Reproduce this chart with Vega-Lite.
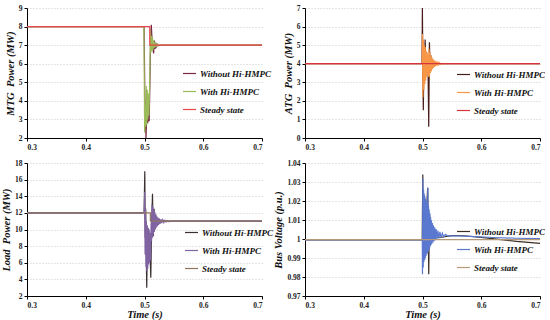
{
  "$schema": "https://vega.github.io/schema/vega-lite/v6.json",
  "padding": {"left": 1, "top": 4, "right": 0, "bottom": 0},
  "background": "white",
  "columns": 2,
  "bounds": "flush",
  "spacing": {"row": 25, "column": 43},
  "resolve": {"scale": {"color": "independent"}, "legend": {"color": "independent"}},
  "config": {
    "view": {"stroke": null},
    "axis": {
      "domainColor": "#000", "domainWidth": 1, "tickColor": "#000", "tickSize": 3,
      "labelFont": "Liberation Serif", "labelFontSize": 7.5, "labelFontWeight": "bold", "labelColor": "#222", "labelPadding": 2,
      "titleFont": "Liberation Serif", "titleFontStyle": "italic", "titleFontWeight": "bold", "titleFontSize": 10.5, "titleColor": "#111", "titlePadding": 3,
      "gridColor": "#bdbdbd", "gridDash": [1, 2], "gridWidth": 0.8
    },
    "legend": {
      "symbolType": "stroke", "symbolSize": 169, "symbolStrokeWidth": 1.6,
      "labelFont": "Liberation Serif", "labelFontStyle": "italic", "labelFontWeight": "bold", "labelFontSize": 9, "labelColor": "#111",
      "rowPadding": 5, "labelOffset": 3
    },
    "line": {"strokeWidth": 1.2}
  },
  "concat": [
    {
      "width": 235, "height": 130,
      "data": {"values": [
        {"s":"Without Hi-HMPC","t":0.3,"v":8},{"s":"Without Hi-HMPC","t":0.4993,"v":8},{"s":"Without Hi-HMPC","t":0.5005,"v":4.5},{"s":"Without Hi-HMPC","t":0.5025,"v":2.0},{"s":"Without Hi-HMPC","t":0.504,"v":3.4},{"s":"Without Hi-HMPC","t":0.5055,"v":2.8},{"s":"Without Hi-HMPC","t":0.5068,"v":3.4},{"s":"Without Hi-HMPC","t":0.508,"v":2.9},{"s":"Without Hi-HMPC","t":0.5092,"v":5.0},{"s":"Without Hi-HMPC","t":0.5105,"v":7.4},{"s":"Without Hi-HMPC","t":0.5116,"v":8.1},{"s":"Without Hi-HMPC","t":0.5128,"v":7.3},{"s":"Without Hi-HMPC","t":0.514,"v":6.9},{"s":"Without Hi-HMPC","t":0.5155,"v":6.55},{"s":"Without Hi-HMPC","t":0.5168,"v":7.25},{"s":"Without Hi-HMPC","t":0.518,"v":6.8},{"s":"Without Hi-HMPC","t":0.5193,"v":7.12},{"s":"Without Hi-HMPC","t":0.5207,"v":6.92},{"s":"Without Hi-HMPC","t":0.5222,"v":7.04},{"s":"Without Hi-HMPC","t":0.524,"v":6.98},{"s":"Without Hi-HMPC","t":0.527,"v":7.0},{"s":"Without Hi-HMPC","t":0.7,"v":7.0},
        {"s":"With Hi-HMPC","t":0.3,"v":8},{"s":"With Hi-HMPC","t":0.499,"v":8},{"s":"With Hi-HMPC","t":0.5002,"v":2.3},{"s":"With Hi-HMPC","t":0.5012,"v":3.8},{"s":"With Hi-HMPC","t":0.502,"v":2.6},{"s":"With Hi-HMPC","t":0.5029,"v":4.8},{"s":"With Hi-HMPC","t":0.5038,"v":2.7},{"s":"With Hi-HMPC","t":0.5047,"v":4.6},{"s":"With Hi-HMPC","t":0.5056,"v":3.0},{"s":"With Hi-HMPC","t":0.5065,"v":4.4},{"s":"With Hi-HMPC","t":0.5074,"v":3.2},{"s":"With Hi-HMPC","t":0.5083,"v":4.2},{"s":"With Hi-HMPC","t":0.5092,"v":5.8},{"s":"With Hi-HMPC","t":0.5101,"v":7.8},{"s":"With Hi-HMPC","t":0.511,"v":6.6},{"s":"With Hi-HMPC","t":0.5119,"v":7.5},{"s":"With Hi-HMPC","t":0.5128,"v":6.7},{"s":"With Hi-HMPC","t":0.5137,"v":7.4},{"s":"With Hi-HMPC","t":0.5146,"v":6.75},{"s":"With Hi-HMPC","t":0.5155,"v":7.25},{"s":"With Hi-HMPC","t":0.5165,"v":6.85},{"s":"With Hi-HMPC","t":0.5175,"v":7.15},{"s":"With Hi-HMPC","t":0.5186,"v":6.9},{"s":"With Hi-HMPC","t":0.5198,"v":7.08},{"s":"With Hi-HMPC","t":0.521,"v":6.95},{"s":"With Hi-HMPC","t":0.5225,"v":7.03},{"s":"With Hi-HMPC","t":0.5245,"v":6.99},{"s":"With Hi-HMPC","t":0.527,"v":7.0},{"s":"With Hi-HMPC","t":0.7,"v":7.0},
        {"s":"Steady state","t":0.3,"v":8},{"s":"Steady state","t":0.5089,"v":8},{"s":"Steady state","t":0.509,"v":7},{"s":"Steady state","t":0.7,"v":7}
      ]},
      "mark": {"type": "line"},
      "encoding": {
        "x": {"field": "t", "type": "quantitative", "scale": {"domain": [0.3, 0.7]}, "axis": {"values": [0.3, 0.4, 0.5, 0.6, 0.7], "format": ".1f", "title": null, "grid": false}},
        "y": {"field": "v", "type": "quantitative", "scale": {"domain": [2, 9]}, "axis": {"values": [2, 3, 4, 5, 6, 7, 8, 9], "title": "MTG\u00a0 Power (MW)", "grid": true}},
        "color": {"field": "s", "type": "nominal", "sort": null,
          "scale": {"domain": ["Without Hi-HMPC", "With Hi-HMPC", "Steady state"], "range": ["#7a2845", "#9bbb59", "#e8464c"]},
          "legend": {"title": null, "orient": "none", "legendX": 155, "legendY": 58}}
      }
    },
    {
      "width": 235, "height": 130,
      "data": {"values": [
        {"s":"Without Hi-HMPC","t":0.3,"v":4},{"s":"Without Hi-HMPC","t":0.4992,"v":4},{"s":"Without Hi-HMPC","t":0.4998,"v":7.0},{"s":"Without Hi-HMPC","t":0.5005,"v":4.3},{"s":"Without Hi-HMPC","t":0.5014,"v":1.5},{"s":"Without Hi-HMPC","t":0.5025,"v":4.6},{"s":"Without Hi-HMPC","t":0.5035,"v":4.2},{"s":"Without Hi-HMPC","t":0.5045,"v":5.3},{"s":"Without Hi-HMPC","t":0.5056,"v":3.7},{"s":"Without Hi-HMPC","t":0.5068,"v":4.6},{"s":"Without Hi-HMPC","t":0.508,"v":3.8},{"s":"Without Hi-HMPC","t":0.5092,"v":4.4},{"s":"Without Hi-HMPC","t":0.5106,"v":0.6},{"s":"Without Hi-HMPC","t":0.5118,"v":5.15},{"s":"Without Hi-HMPC","t":0.513,"v":3.5},{"s":"Without Hi-HMPC","t":0.5142,"v":4.45},{"s":"Without Hi-HMPC","t":0.5154,"v":3.75},{"s":"Without Hi-HMPC","t":0.5166,"v":4.25},{"s":"Without Hi-HMPC","t":0.518,"v":3.9},{"s":"Without Hi-HMPC","t":0.5195,"v":4.08},{"s":"Without Hi-HMPC","t":0.521,"v":3.97},{"s":"Without Hi-HMPC","t":0.523,"v":4.02},{"s":"Without Hi-HMPC","t":0.526,"v":4.0},{"s":"Without Hi-HMPC","t":0.7,"v":4},
        {"s":"With Hi-HMPC","t":0.3,"v":4},{"s":"With Hi-HMPC","t":0.4994,"v":4},{"s":"With Hi-HMPC","t":0.5,"v":5.6},{"s":"With Hi-HMPC","t":0.5007,"v":2.2},{"s":"With Hi-HMPC","t":0.5015,"v":5.3},{"s":"With Hi-HMPC","t":0.5023,"v":2.6},{"s":"With Hi-HMPC","t":0.5031,"v":5.0},{"s":"With Hi-HMPC","t":0.5039,"v":2.9},{"s":"With Hi-HMPC","t":0.5047,"v":4.9},{"s":"With Hi-HMPC","t":0.5055,"v":3.1},{"s":"With Hi-HMPC","t":0.5063,"v":4.7},{"s":"With Hi-HMPC","t":0.5071,"v":3.3},{"s":"With Hi-HMPC","t":0.5079,"v":4.6},{"s":"With Hi-HMPC","t":0.5087,"v":3.4},{"s":"With Hi-HMPC","t":0.5095,"v":4.5},{"s":"With Hi-HMPC","t":0.5103,"v":3.3},{"s":"With Hi-HMPC","t":0.5111,"v":4.8},{"s":"With Hi-HMPC","t":0.5119,"v":3.3},{"s":"With Hi-HMPC","t":0.5127,"v":4.6},{"s":"With Hi-HMPC","t":0.5135,"v":3.5},{"s":"With Hi-HMPC","t":0.5143,"v":4.45},{"s":"With Hi-HMPC","t":0.5151,"v":3.6},{"s":"With Hi-HMPC","t":0.5159,"v":4.35},{"s":"With Hi-HMPC","t":0.5168,"v":3.7},{"s":"With Hi-HMPC","t":0.5177,"v":4.27},{"s":"With Hi-HMPC","t":0.5186,"v":3.77},{"s":"With Hi-HMPC","t":0.5195,"v":4.2},{"s":"With Hi-HMPC","t":0.5205,"v":3.83},{"s":"With Hi-HMPC","t":0.5215,"v":4.15},{"s":"With Hi-HMPC","t":0.5226,"v":3.87},{"s":"With Hi-HMPC","t":0.5237,"v":4.11},{"s":"With Hi-HMPC","t":0.525,"v":3.91},{"s":"With Hi-HMPC","t":0.5263,"v":4.08},{"s":"With Hi-HMPC","t":0.5277,"v":3.94},{"s":"With Hi-HMPC","t":0.5292,"v":4.05},{"s":"With Hi-HMPC","t":0.531,"v":3.97},{"s":"With Hi-HMPC","t":0.533,"v":4.02},{"s":"With Hi-HMPC","t":0.536,"v":3.99},{"s":"With Hi-HMPC","t":0.54,"v":4.0},{"s":"With Hi-HMPC","t":0.7,"v":4},
        {"s":"Steady state","t":0.3,"v":4},{"s":"Steady state","t":0.7,"v":4}
      ]},
      "mark": {"type": "line"},
      "encoding": {
        "x": {"field": "t", "type": "quantitative", "scale": {"domain": [0.3, 0.7]}, "axis": {"values": [0.3, 0.4, 0.5, 0.6, 0.7], "format": ".1f", "title": null, "grid": false}},
        "y": {"field": "v", "type": "quantitative", "scale": {"domain": [0, 7]}, "axis": {"values": [0, 1, 2, 3, 4, 5, 6, 7], "title": "ATG\u00a0 Power (MW)", "grid": true}},
        "color": {"field": "s", "type": "nominal", "sort": null,
          "scale": {"domain": ["Without Hi-HMPC", "With Hi-HMPC", "Steady state"], "range": ["#4a1c1c", "#f79646", "#d8343c"]},
          "legend": {"title": null, "orient": "none", "legendX": 151, "legendY": 59}}
      }
    },
    {
      "width": 235, "height": 133,
      "data": {"values": [
        {"s":"Without Hi-HMPC","t":0.3,"v":12},{"s":"Without Hi-HMPC","t":0.4993,"v":12},{"s":"Without Hi-HMPC","t":0.5005,"v":17.0},{"s":"Without Hi-HMPC","t":0.5012,"v":9.0},{"s":"Without Hi-HMPC","t":0.502,"v":12.5},{"s":"Without Hi-HMPC","t":0.5038,"v":3.0},{"s":"Without Hi-HMPC","t":0.5048,"v":8.5},{"s":"Without Hi-HMPC","t":0.5058,"v":6.0},{"s":"Without Hi-HMPC","t":0.5068,"v":10.0},{"s":"Without Hi-HMPC","t":0.5078,"v":6.8},{"s":"Without Hi-HMPC","t":0.5088,"v":9.2},{"s":"Without Hi-HMPC","t":0.5107,"v":4.2},{"s":"Without Hi-HMPC","t":0.5122,"v":10.5},{"s":"Without Hi-HMPC","t":0.5136,"v":14.3},{"s":"Without Hi-HMPC","t":0.515,"v":9.2},{"s":"Without Hi-HMPC","t":0.5163,"v":12.5},{"s":"Without Hi-HMPC","t":0.5176,"v":10.0},{"s":"Without Hi-HMPC","t":0.519,"v":11.8},{"s":"Without Hi-HMPC","t":0.5204,"v":10.5},{"s":"Without Hi-HMPC","t":0.522,"v":11.35},{"s":"Without Hi-HMPC","t":0.5237,"v":10.75},{"s":"Without Hi-HMPC","t":0.5256,"v":11.15},{"s":"Without Hi-HMPC","t":0.528,"v":10.92},{"s":"Without Hi-HMPC","t":0.532,"v":11.03},{"s":"Without Hi-HMPC","t":0.538,"v":11.0},{"s":"Without Hi-HMPC","t":0.7,"v":11},
        {"s":"With Hi-HMPC","t":0.3,"v":12},{"s":"With Hi-HMPC","t":0.4995,"v":12},{"s":"With Hi-HMPC","t":0.5003,"v":14.5},{"s":"With Hi-HMPC","t":0.501,"v":7.0},{"s":"With Hi-HMPC","t":0.5017,"v":12.5},{"s":"With Hi-HMPC","t":0.5025,"v":5.5},{"s":"With Hi-HMPC","t":0.5032,"v":11.0},{"s":"With Hi-HMPC","t":0.504,"v":5.0},{"s":"With Hi-HMPC","t":0.5048,"v":10.5},{"s":"With Hi-HMPC","t":0.5056,"v":5.3},{"s":"With Hi-HMPC","t":0.5064,"v":10.2},{"s":"With Hi-HMPC","t":0.5072,"v":5.8},{"s":"With Hi-HMPC","t":0.508,"v":10.0},{"s":"With Hi-HMPC","t":0.5088,"v":6.0},{"s":"With Hi-HMPC","t":0.5096,"v":9.6},{"s":"With Hi-HMPC","t":0.5104,"v":6.3},{"s":"With Hi-HMPC","t":0.5112,"v":10.8},{"s":"With Hi-HMPC","t":0.512,"v":8.6},{"s":"With Hi-HMPC","t":0.5128,"v":13.0},{"s":"With Hi-HMPC","t":0.5136,"v":9.0},{"s":"With Hi-HMPC","t":0.5144,"v":12.7},{"s":"With Hi-HMPC","t":0.5152,"v":9.4},{"s":"With Hi-HMPC","t":0.516,"v":12.4},{"s":"With Hi-HMPC","t":0.5168,"v":9.7},{"s":"With Hi-HMPC","t":0.5176,"v":12.1},{"s":"With Hi-HMPC","t":0.5184,"v":10.0},{"s":"With Hi-HMPC","t":0.5192,"v":11.8},{"s":"With Hi-HMPC","t":0.52,"v":10.2},{"s":"With Hi-HMPC","t":0.521,"v":11.6},{"s":"With Hi-HMPC","t":0.522,"v":10.4},{"s":"With Hi-HMPC","t":0.523,"v":11.45},{"s":"With Hi-HMPC","t":0.524,"v":10.55},{"s":"With Hi-HMPC","t":0.5252,"v":11.33},{"s":"With Hi-HMPC","t":0.5265,"v":10.67},{"s":"With Hi-HMPC","t":0.528,"v":11.25},{"s":"With Hi-HMPC","t":0.5295,"v":10.76},{"s":"With Hi-HMPC","t":0.531,"v":11.18},{"s":"With Hi-HMPC","t":0.5328,"v":10.83},{"s":"With Hi-HMPC","t":0.5347,"v":11.12},{"s":"With Hi-HMPC","t":0.5368,"v":10.89},{"s":"With Hi-HMPC","t":0.539,"v":11.08},{"s":"With Hi-HMPC","t":0.5415,"v":10.94},{"s":"With Hi-HMPC","t":0.5445,"v":11.04},{"s":"With Hi-HMPC","t":0.548,"v":10.98},{"s":"With Hi-HMPC","t":0.553,"v":11.0},{"s":"With Hi-HMPC","t":0.7,"v":11},
        {"s":"Steady state","t":0.3,"v":12},{"s":"Steady state","t":0.5099,"v":12},{"s":"Steady state","t":0.51,"v":11},{"s":"Steady state","t":0.7,"v":11}
      ]},
      "mark": {"type": "line"},
      "encoding": {
        "x": {"field": "t", "type": "quantitative", "scale": {"domain": [0.3, 0.7]}, "axis": {"values": [0.3, 0.4, 0.5, 0.6, 0.7], "format": ".1f", "title": "Time (s)", "titleFontSize": 10.5, "titlePadding": 1, "grid": false}},
        "y": {"field": "v", "type": "quantitative", "scale": {"domain": [2, 18]}, "axis": {"values": [2, 4, 6, 8, 10, 12, 14, 16, 18], "title": "Load\u00a0 Power (MW)", "grid": true}},
        "color": {"field": "s", "type": "nominal", "sort": null,
          "scale": {"domain": ["Without Hi-HMPC", "With Hi-HMPC", "Steady state"], "range": ["#3b3030", "#8064a2", "#8f7560"]},
          "legend": {"title": null, "orient": "none", "legendX": 157, "legendY": 62}}
      }
    },
    {
      "width": 235, "height": 133,
      "data": {"values": [
        {"s":"Without Hi-HMPC","t":0.3,"v":0.9995},{"s":"Without Hi-HMPC","t":0.4995,"v":0.9995},{"s":"Without Hi-HMPC","t":0.5005,"v":1.034},{"s":"Without Hi-HMPC","t":0.5012,"v":0.9905},{"s":"Without Hi-HMPC","t":0.502,"v":1.022},{"s":"Without Hi-HMPC","t":0.5032,"v":1.019},{"s":"Without Hi-HMPC","t":0.5045,"v":1.021},{"s":"Without Hi-HMPC","t":0.506,"v":1.017},{"s":"Without Hi-HMPC","t":0.5075,"v":1.019},{"s":"Without Hi-HMPC","t":0.5088,"v":1.027},{"s":"Without Hi-HMPC","t":0.5098,"v":1.006},{"s":"Without Hi-HMPC","t":0.5106,"v":0.9815},{"s":"Without Hi-HMPC","t":0.5118,"v":1.013},{"s":"Without Hi-HMPC","t":0.5135,"v":1.0065},{"s":"Without Hi-HMPC","t":0.5155,"v":1.0035},{"s":"Without Hi-HMPC","t":0.518,"v":1.0022},{"s":"Without Hi-HMPC","t":0.522,"v":1.0012},{"s":"Without Hi-HMPC","t":0.53,"v":1.0008},{"s":"Without Hi-HMPC","t":0.54,"v":1.0013},{"s":"Without Hi-HMPC","t":0.55,"v":1.0018},{"s":"Without Hi-HMPC","t":0.57,"v":1.0017},{"s":"Without Hi-HMPC","t":0.6,"v":1.0009},{"s":"Without Hi-HMPC","t":0.63,"v":0.9998},{"s":"Without Hi-HMPC","t":0.66,"v":0.9987},{"s":"Without Hi-HMPC","t":0.7,"v":0.9977},
        {"s":"With Hi-HMPC","t":0.3,"v":0.9995},{"s":"With Hi-HMPC","t":0.4996,"v":0.9995},{"s":"With Hi-HMPC","t":0.5,"v":0.9815},{"s":"With Hi-HMPC","t":0.5006,"v":1.032},{"s":"With Hi-HMPC","t":0.5012,"v":0.985},{"s":"With Hi-HMPC","t":0.5018,"v":1.026},{"s":"With Hi-HMPC","t":0.5024,"v":0.988},{"s":"With Hi-HMPC","t":0.503,"v":1.024},{"s":"With Hi-HMPC","t":0.5036,"v":0.989},{"s":"With Hi-HMPC","t":0.5042,"v":1.0225},{"s":"With Hi-HMPC","t":0.5048,"v":0.99},{"s":"With Hi-HMPC","t":0.5054,"v":1.021},{"s":"With Hi-HMPC","t":0.506,"v":0.991},{"s":"With Hi-HMPC","t":0.5066,"v":1.02},{"s":"With Hi-HMPC","t":0.5072,"v":0.992},{"s":"With Hi-HMPC","t":0.5078,"v":1.019},{"s":"With Hi-HMPC","t":0.5084,"v":0.9925},{"s":"With Hi-HMPC","t":0.509,"v":1.027},{"s":"With Hi-HMPC","t":0.5096,"v":0.993},{"s":"With Hi-HMPC","t":0.5102,"v":1.0175},{"s":"With Hi-HMPC","t":0.5108,"v":0.994},{"s":"With Hi-HMPC","t":0.5114,"v":1.0155},{"s":"With Hi-HMPC","t":0.512,"v":0.995},{"s":"With Hi-HMPC","t":0.5126,"v":1.0135},{"s":"With Hi-HMPC","t":0.5132,"v":0.996},{"s":"With Hi-HMPC","t":0.5138,"v":1.0115},{"s":"With Hi-HMPC","t":0.5145,"v":0.9968},{"s":"With Hi-HMPC","t":0.5152,"v":1.0098},{"s":"With Hi-HMPC","t":0.516,"v":0.9975},{"s":"With Hi-HMPC","t":0.5168,"v":1.0084},{"s":"With Hi-HMPC","t":0.5177,"v":0.9982},{"s":"With Hi-HMPC","t":0.5186,"v":1.0072},{"s":"With Hi-HMPC","t":0.5196,"v":0.9988},{"s":"With Hi-HMPC","t":0.5207,"v":1.0062},{"s":"With Hi-HMPC","t":0.5219,"v":0.9994},{"s":"With Hi-HMPC","t":0.5232,"v":1.0053},{"s":"With Hi-HMPC","t":0.5246,"v":0.9999},{"s":"With Hi-HMPC","t":0.5261,"v":1.0045},{"s":"With Hi-HMPC","t":0.5278,"v":1.0003},{"s":"With Hi-HMPC","t":0.5296,"v":1.0038},{"s":"With Hi-HMPC","t":0.5316,"v":1.0007},{"s":"With Hi-HMPC","t":0.5338,"v":1.0031},{"s":"With Hi-HMPC","t":0.5362,"v":1.0011},{"s":"With Hi-HMPC","t":0.539,"v":1.0024},{"s":"With Hi-HMPC","t":0.543,"v":1.0016},{"s":"With Hi-HMPC","t":0.55,"v":1.0017},{"s":"With Hi-HMPC","t":0.58,"v":1.0014},{"s":"With Hi-HMPC","t":0.62,"v":1.0008},{"s":"With Hi-HMPC","t":0.66,"v":1.0004},{"s":"With Hi-HMPC","t":0.7,"v":1.0002},
        {"s":"Steady state","t":0.3,"v":0.9997},{"s":"Steady state","t":0.7,"v":0.9997}
      ]},
      "mark": {"type": "line"},
      "encoding": {
        "x": {"field": "t", "type": "quantitative", "scale": {"domain": [0.3, 0.7]}, "axis": {"values": [0.3, 0.4, 0.5, 0.6, 0.7], "format": ".1f", "title": "Time (s)", "titleFontSize": 10.5, "titlePadding": 1, "grid": false}},
        "y": {"field": "v", "type": "quantitative", "scale": {"domain": [0.97, 1.04]}, "axis": {"values": [0.97, 0.98, 0.99, 1.0, 1.01, 1.02, 1.03, 1.04], "format": ".2~f", "title": "Bus Voltage (p.u.)", "grid": true}},
        "color": {"field": "s", "type": "nominal", "sort": null,
          "scale": {"domain": ["Without Hi-HMPC", "With Hi-HMPC", "Steady state"], "range": ["#3d2e22", "#5a78cf", "#b59a78"]},
          "legend": {"title": null, "orient": "none", "legendX": 151, "legendY": 61}}
      }
    }
  ]
}
